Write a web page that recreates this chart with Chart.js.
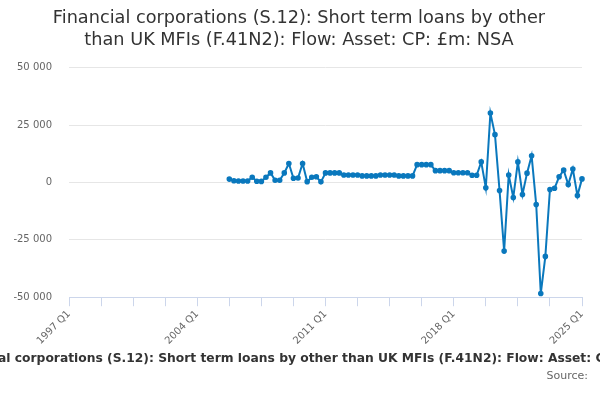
<!DOCTYPE html>
<html>
<head>
<meta charset="utf-8">
<script src="https://cdn.jsdelivr.net/npm/chart.js@4"></script>
<style>
  html, body { margin: 0; padding: 0; background: #fff; }
  #wrap { position: relative; width: 600px; height: 400px; overflow: hidden; }
  #caption { position: absolute; left: 315px; top: 351px; transform: translateX(-50%);
    white-space: nowrap; font: bold 12.3px "DejaVu Sans"; color: #333333; }
  #source { position: absolute; right: 12px; top: 369px; font: 11px "DejaVu Sans"; color: #666666; }
</style>
</head>
<body>
<div id="wrap">
  <canvas id="myChart"></canvas>
  <div id="caption"></div>
  <div id="source"></div>
</div>
<script>
var chartTitle = ["Financial corporations (S.12): Short term loans by other",
    "than UK MFIs (F.41N2): Flow: Asset: CP: £m: NSA"];
var axisCaption = "Financial corporations (S.12): Short term loans by other than UK MFIs (F.41N2): Flow: Asset: CP: £m: NSA";
var sourceText = "Source:";

// quarters 1997 Q1 .. 2025 Q1
var firstYear = 1997, lastYear = 2025;
var quarters = [];
for (var y = firstYear; y <= lastYear; y++) {
    for (var q = 1; q <= 4; q++) {
        if (y == lastYear && q > 1) break;
        quarters.push(y + " Q" + q);
    }
}

// series starts at 2005 Q4
var seriesStart = "2005 Q4";
var values = [
    1500, 800, 700, 700, 700, 2300, 600, 500, 2300, 4200,
    1000, 1000, 4200, 8300, 1900, 2000, 8300, 400, 2300, 2500,
    300, 4200, 4200, 4200, 4200, 3300, 3300, 3300, 3300, 2900,
    2900, 2900, 2900, 3300, 3300, 3300, 3300, 2900, 2900, 2900,
    2900, 7800, 7800, 7800, 7800, 5200, 5200, 5200, 5200, 4300,
    4300, 4300, 4300, 3200, 3200, 9000, -2300, 30300, 20900, -3500,
    -29900, 3300, -6500, 9000, -5200, 4100, 11700, -9600, -48400, -32200,
    -3000, -2500, 2500, 5400, -900, 5900, -5700, 1600
];
var yTicks = [-50000, -25000, 0, 25000, 50000];

var startIdx = quarters.indexOf(seriesStart);
var series = [];
for (var i = 0; i < quarters.length; i++) {
    var v = values[i - startIdx];
    series.push(i >= startIdx && v !== undefined ? v : null);
}

function fmt(n) {
    var s = Math.abs(n).toString().replace(/\B(?=(\d{3})+(?!\d))/g, " ");
    return (n < 0 ? "-" : "") + s;
}

document.getElementById("caption").textContent = axisCaption;
document.getElementById("source").textContent = sourceText;

var lineColor = "#0a78bd";
var ctx = document.getElementById("myChart").getContext("2d");
var mychart = new Chart(ctx, {
    type: "line",
    data: {
        labels: quarters,
        datasets: [{
            label: "Flow",
            data: series,
            borderColor: lineColor,
            backgroundColor: lineColor,
            borderWidth: 2,
            pointRadius: 1.8,
            pointHoverRadius: 3,
            tension: 0,
            fill: false
        }]
    },
    options: {
        responsive: true,
        maintainAspectRatio: false,
        animation: false,
        layout: { padding: { left: 8, right: 10, top: 0, bottom: 51 } },
        plugins: {
            legend: { display: false },
            tooltip: { enabled: false },
            title: {
                display: true,
                text: chartTitle,
                color: "#333333",
                font: { family: "DejaVu Sans", size: 17.7, weight: "normal", lineHeight: 1.24 },
                padding: { top: 7, bottom: 17 }
            }
        },
        scales: {
            x: {
                type: "category",
                offset: false,
                afterFit: function (s) {
                    s.paddingLeft = 0;
                    s.paddingRight = 18;
                },
                grid: {
                    drawOnChartArea: false,
                    drawTicks: true,
                    tickLength: 9,
                    color: function (c) {
                        return c.index % 7 == 0 ? "#ccd6eb" : "rgba(0,0,0,0)";
                    }
                },
                border: { display: true, color: "#ccd6eb" },
                ticks: {
                    autoSkip: false,
                    maxRotation: 45,
                    minRotation: 45,
                    padding: 2,
                    color: "#666666",
                    font: { family: "DejaVu Sans", size: 10 },
                    callback: function (val, idx) {
                        return idx % 28 == 0 ? quarters[idx] : "";
                    }
                }
            },
            y: {
                min: -50000,
                max: 50000,
                afterFit: function (s) { s.width = 61; },
                afterBuildTicks: function (axis) {
                    axis.ticks = yTicks.map(function (v) { return { value: v }; });
                },
                grid: { color: "#e6e6e6", drawTicks: false },
                border: { display: false },
                ticks: {
                    padding: 17,
                    color: "#666666",
                    font: { family: "DejaVu Sans", size: 10 },
                    callback: function (v) { return fmt(v); }
                }
            }
        }
    }
});
</script>
</body>
</html>
